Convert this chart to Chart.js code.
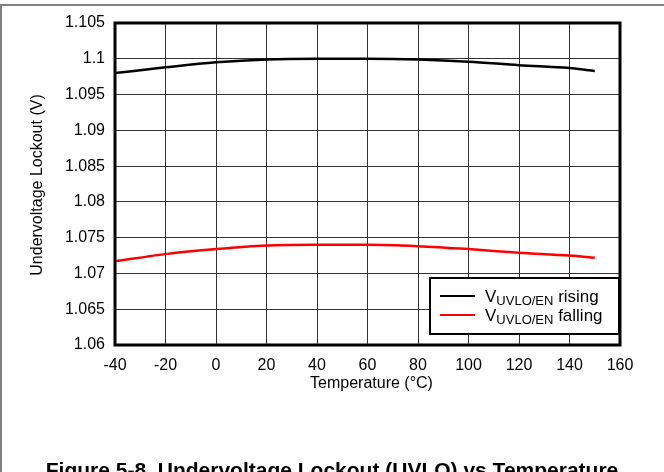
<!DOCTYPE html>
<html>
<head>
<meta charset="utf-8">
<script src="https://cdn.jsdelivr.net/npm/chart.js@4.4.1/dist/chart.umd.min.js"></script>
<style>
  html, body { margin: 0; padding: 0; background: #fff; }
  #wrap { width: 664px; height: 472px; position: relative; }
</style>
</head>
<body>
<div id="wrap"><canvas id="uvloChart" width="664" height="472"></canvas></div>
<script>
// temperature points (°C)
var temps = [-40, -20, 0, 20, 40, 60, 80, 100, 120, 140, 150];
// threshold voltages (V)
var rising = [1.0980, 1.0988, 1.0995, 1.0999, 1.1000, 1.1000, 1.0999, 1.0996, 1.0991, 1.0987, 1.0983];
var falling = [1.0717, 1.0727, 1.0734, 1.0739, 1.0740, 1.0740, 1.0738, 1.0734, 1.0729, 1.0725, 1.0722];

var xTicks = [-40, -20, 0, 20, 40, 60, 80, 100, 120, 140, 160];
var yTicks = [1.06, 1.065, 1.07, 1.075, 1.08, 1.085, 1.09, 1.095, 1.1, 1.105];
var yTickLabels = ['1.06', '1.065', '1.07', '1.075', '1.08', '1.085', '1.09', '1.095', '1.1', '1.105'];

var seriesNames = ['rising', 'falling'];
var seriesColors = ['#000000', '#ff0000'];

function pts(ys) {
    return temps.map(function (t, i) { return { x: t, y: ys[i] }; });
}

var FONT = '"Liberation Sans", Arial, sans-serif';

// frame, plot border, axis titles, legend and caption
var decorations = {
    id: 'decorations',
    afterDatasetsDraw: function (chart) {
        var ctx = chart.ctx;
        var a = chart.chartArea;
        ctx.save();

        // heavy plot border
        ctx.strokeStyle = '#000';
        ctx.lineWidth = 3;
        ctx.strokeRect(a.left, a.top, a.right - a.left, a.bottom - a.top);

        // legend box
        var lx = 429, ly = 277, lw = a.right - 429, lh = 58;
        ctx.fillStyle = '#fff';
        ctx.fillRect(lx, ly, lw, lh);
        ctx.lineWidth = 2;
        ctx.strokeRect(lx + 1, ly + 1, lw - 2, lh - 2);

        seriesNames.forEach(function (name, i) {
            var y = 296 + i * 19;
            ctx.strokeStyle = seriesColors[i];
            ctx.lineWidth = 2;
            ctx.beginPath();
            ctx.moveTo(440, y);
            ctx.lineTo(475, y);
            ctx.stroke();

            ctx.fillStyle = '#000';
            ctx.textBaseline = 'alphabetic';
            ctx.textAlign = 'left';
            var x = 485;
            ctx.font = '17px ' + FONT;
            ctx.fillText('V', x, y + 6);
            x += ctx.measureText('V').width;
            ctx.font = '13px ' + FONT;
            ctx.fillText('UVLO/EN', x, y + 9);
            x += ctx.measureText('UVLO/EN').width;
            ctx.font = '17px ' + FONT;
            ctx.fillText(' ' + name, x, y + 6);
        });

        // axis titles
        ctx.fillStyle = '#000';
        ctx.font = '16px ' + FONT;
        ctx.textAlign = 'center';
        ctx.textBaseline = 'middle';
        ctx.fillText('Temperature (°C)', (a.left + a.right) / 2 + 4, 384);

        ctx.save();
        ctx.translate(38, 185);
        ctx.rotate(-Math.PI / 2);
        ctx.fillText('Undervoltage Lockout (V)', 0, 0);
        ctx.restore();

        // caption
        ctx.font = 'bold 21px ' + FONT;
        ctx.textBaseline = 'alphabetic';
        ctx.fillText('Figure 5-8. Undervoltage Lockout (UVLO) vs Temperature', 332, 477);

        // outer frame
        ctx.strokeStyle = '#808080';
        ctx.lineWidth = 2;
        ctx.beginPath();
        ctx.moveTo(664, 5);
        ctx.lineTo(1, 5);
        ctx.lineTo(1, 472);
        ctx.stroke();

        ctx.restore();
    }
};

new Chart(document.getElementById('uvloChart'), {
    type: 'line',
    data: {
        datasets: [
            { label: seriesNames[0], data: pts(rising), borderColor: seriesColors[0], borderWidth: 2.5 },
            { label: seriesNames[1], data: pts(falling), borderColor: seriesColors[1], borderWidth: 2.5 }
        ]
    },
    options: {
        responsive: false,
        animation: false,
        devicePixelRatio: 1,
        layout: { padding: { left: 0, top: 23, right: 44, bottom: 0 } },
        elements: {
            point: { radius: 0 },
            line: { cubicInterpolationMode: 'monotone', fill: false }
        },
        plugins: { legend: { display: false }, tooltip: { enabled: false } },
        scales: {
            x: {
                type: 'linear',
                min: -40,
                max: 160,
                afterBuildTicks: function (scale) {
                    scale.ticks = xTicks.map(function (v) { return { value: v }; });
                },
                afterFit: function (scale) { scale.height = 127; },
                grid: { color: '#333', lineWidth: 1, drawTicks: false },
                border: { display: false },
                ticks: {
                    color: '#000',
                    padding: 11,
                    maxRotation: 0,
                    font: { family: FONT, size: 16 }
                }
            },
            y: {
                type: 'linear',
                min: 1.06,
                max: 1.105,
                afterBuildTicks: function (scale) {
                    scale.ticks = yTicks.map(function (v) { return { value: v }; });
                },
                afterFit: function (scale) { scale.width = 115; },
                grid: { color: '#333', lineWidth: 1, drawTicks: false },
                border: { display: false },
                ticks: {
                    color: '#000',
                    padding: 10,
                    font: { family: FONT, size: 16 },
                    callback: function (v, i) { return yTickLabels[i]; }
                }
            }
        }
    },
    plugins: [decorations]
});
</script>
</body>
</html>
